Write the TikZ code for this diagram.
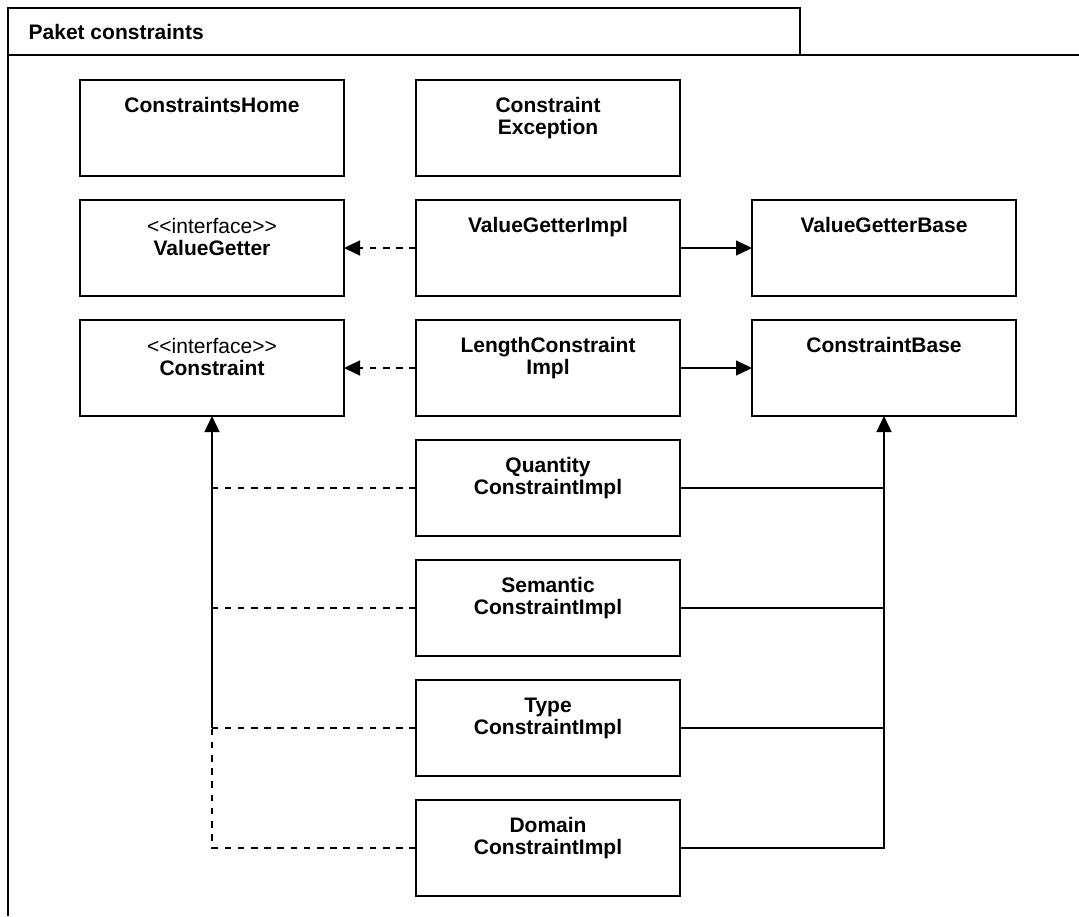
\documentclass[tikz,border=0pt]{standalone}
\usepackage{fontspec}
\setmainfont{Liberation Sans}
\usetikzlibrary{arrows.meta, positioning}

\begin{document}
\begin{tikzpicture}[x=0.5pt, y=-0.5pt, >={Triangle[length=8pt, width=7.5pt]},
  line width=0.65pt, node distance=12pt and 36pt,
  cls/.style={draw, minimum width=132pt, minimum height=48pt,
              inner sep=0pt, outer sep=0pt},
  ttl/.style={anchor=north, inner sep=0pt, align=center,
              font=\bfseries\fontsize{10.5}{11}\selectfont},
  dep/.style={dash pattern=on 3.3pt off 3.3pt}]

  \useasboundingbox (0,0) rectangle (1079,916);

  % package frame
  \draw (8,916) -- (8,8) -- (800,8) -- (800,55);
  \draw (8,55) -- (1079,55);
  \node[anchor=base west, inner sep=0pt,
        font=\bfseries\fontsize{10.5}{12}\selectfont] (pkg) at (28,39) {Paket constraints};

  % classes
  \node[cls, anchor=north west] (home) at (80,80) {};
  \node[cls, right=of home] (exc) {};
  \node[cls, below=of home] (vg) {};
  \node[cls, right=of vg] (vgi) {};
  \node[cls, right=of vgi] (vgb) {};
  \node[cls, below=of vg] (con) {};
  \node[cls, right=of con] (lci) {};
  \node[cls, right=of lci] (cb) {};
  \node[cls, below=of lci] (qty) {};
  \node[cls, below=of qty] (sem) {};
  \node[cls, below=of sem] (typ) {};
  \node[cls, below=of typ] (dom) {};

  % class names
  \node[ttl] (home-t) at ([yshift=-8.5pt]home.north) {ConstraintsHome};
  \node[ttl] (exc-t) at ([yshift=-8.5pt]exc.north) {Constraint\\Exception};
  \node[ttl] (vg-t) at ([yshift=-9pt]vg.north)
    {\mdseries <\kern0pt<interface>\kern0pt>\\ValueGetter};
  \node[ttl] (vgi-t) at ([yshift=-8.5pt]vgi.north) {ValueGetterImpl};
  \node[ttl] (vgb-t) at ([yshift=-8.5pt]vgb.north) {ValueGetterBase};
  \node[ttl] (con-t) at ([yshift=-9pt]con.north)
    {\mdseries <\kern0pt<interface>\kern0pt>\\Constraint};
  \node[ttl] (lci-t) at ([yshift=-8.5pt]lci.north) {LengthConstraint\\Impl};
  \node[ttl] (cb-t) at ([yshift=-8.5pt]cb.north) {ConstraintBase};
  \node[ttl] (qty-t) at ([yshift=-8.5pt]qty.north) {Quantity\\ConstraintImpl};
  \node[ttl] (sem-t) at ([yshift=-8.5pt]sem.north) {Semantic\\ConstraintImpl};
  \node[ttl] (typ-t) at ([yshift=-8.5pt]typ.north) {Type\\ConstraintImpl};
  \node[ttl] (dom-t) at ([yshift=-8.5pt]dom.north) {Domain\\ConstraintImpl};

  % realizations and generalizations
  \draw[->, dep] (vgi.west) -- (vg.east);
  \draw[->] (vgi.east) -- (vgb.west);
  \draw[->, dep] (lci.west) -- (con.east);
  \draw[->] (lci.east) -- (cb.west);

  \coordinate (lj) at (typ.west -| con.south);
  \draw[dep] (qty.west) -- (qty.west -| con.south);
  \draw[dep] (sem.west) -- (sem.west -| con.south);
  \draw[dep] (typ.west) -- (lj);
  \draw[dep] (dom.west) -| (lj);
  \draw[->] (lj) -- (con.south);

  \draw (qty.east) -- (qty.east -| cb.south);
  \draw (sem.east) -- (sem.east -| cb.south);
  \draw (typ.east) -- (typ.east -| cb.south);
  \draw[->] (dom.east) -| (cb.south);
\end{tikzpicture}
\end{document}
